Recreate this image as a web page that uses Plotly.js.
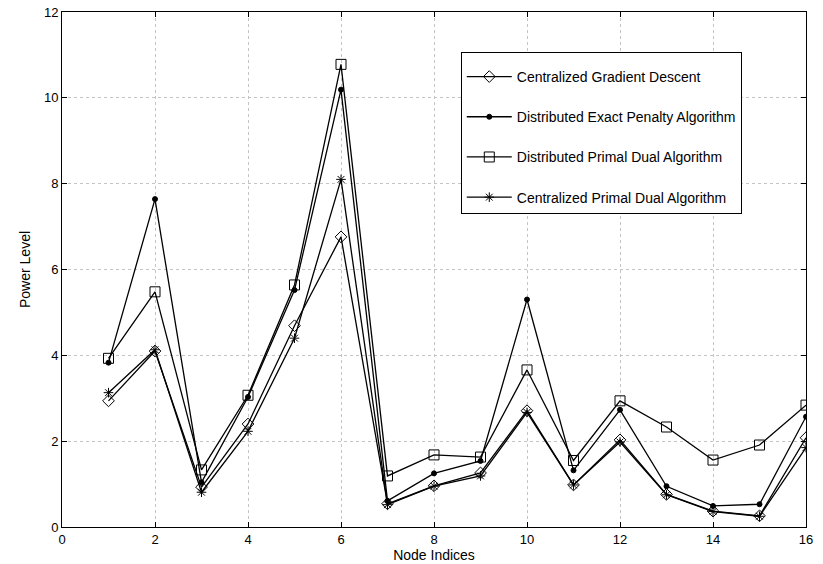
<!DOCTYPE html>
<html>
<head>
<meta charset="utf-8">
<script src="https://cdn.plot.ly/plotly-3.0.1.min.js"></script>
<style>html,body{margin:0;padding:0;background:#fff;}#chart{width:823px;height:564px;}</style>
</head>
<body>
<div id="chart"></div>
<script>
const nodes = [1,2,3,4,5,6,7,8,9,10,11,12,13,14,15,16];
const seriesNames = ["Centralized Gradient Descent","Distributed Exact Penalty Algorithm","Distributed Primal Dual Algorithm","Centralized Primal Dual Algorithm"];
const centralizedGD = [2.94,4.10,0.93,2.40,4.69,6.76,0.54,0.96,1.26,2.71,0.98,2.03,0.76,0.37,0.26,2.08];
const distExactPenalty = [3.83,7.64,1.04,3.03,5.52,10.19,0.61,1.25,1.54,5.30,1.32,2.73,0.95,0.49,0.53,2.57];
const distPrimalDual = [3.93,5.48,1.33,3.07,5.64,10.78,1.19,1.68,1.63,3.66,1.55,2.94,2.33,1.56,1.91,2.84];
const centralPrimalDual = [3.13,4.13,0.81,2.23,4.40,8.10,0.52,0.95,1.19,2.67,0.98,1.98,0.75,0.36,0.25,1.85];
const xTicks = [0,2,4,6,8,10,12,14,16];
const yTicks = [0,2,4,6,8,10,12];

const markers = [
  {symbol:'diamond-open', size:9},
  {symbol:'circle', size:5},
  {symbol:'square-open', size:10},
  {symbol:'asterisk-open', size:8}
];
const FONT = 'Liberation Sans, Arial, sans-serif';
const data = [centralizedGD, distExactPenalty, distPrimalDual, centralPrimalDual].map((ys,i)=>({
  x: nodes, y: ys, name: seriesNames[i], type:'scatter', mode:'lines+markers',
  legendgroup: 'g'+i,
  line:{color:'#000', width:1.3},
  marker:{symbol:markers[i].symbol, size:markers[i].size, color:'#000', line:{color:'#000', width:1}}
}));

const axisCommon = {
  showline:true, linecolor:'#000', linewidth:1, mirror:'ticks',
  ticks:'inside', ticklen:5, tickcolor:'#000', zeroline:false,
  showgrid:true, gridcolor:'#c4c4c4', griddash:'dot', gridwidth:1,
  tickfont:{family:FONT, size:13, color:'#000'}
};
const layout = {
  width:823, height:564,
  margin:{l:62, r:17, t:12, b:37},
  paper_bgcolor:'#fff', plot_bgcolor:'#fff',
  font:{family:FONT, size:13, color:'#000'},
  xaxis: Object.assign({}, axisCommon, {range:[0,16], tickvals:xTicks, ticktext:xTicks.map(String),
    title:{text:'Node Indices', standoff:2, font:{size:14}}}),
  yaxis: Object.assign({}, axisCommon, {range:[0,12], tickvals:yTicks, ticktext:yTicks.map(String),
    title:{text:'Power Level', standoff:10, font:{size:14}}}),
  showlegend:true,
  legend:{x:0.536, y:0.922, xanchor:'left', yanchor:'top', bgcolor:'#fff',
    bordercolor:'#000', borderwidth:1, tracegroupgap:19, itemwidth:45,
    entrywidth:305, entrywidthmode:'pixels',
    title:{text:' ', font:{size:6}},
    font:{family:FONT, size:14, color:'#000'}}
};
Plotly.newPlot('chart', data, layout, {displayModeBar:false, staticPlot:true});
</script>
</body>
</html>
